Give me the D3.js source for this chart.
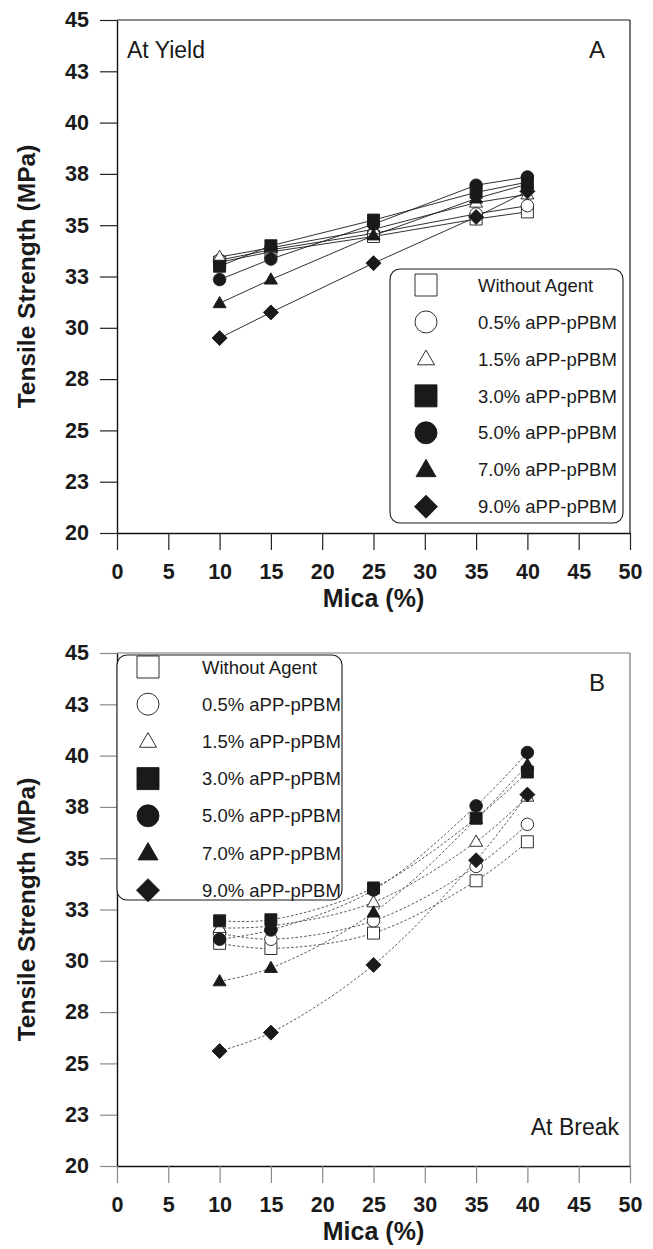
<!DOCTYPE html>
<html>
<head>
<meta charset="utf-8">
<script src="https://cdn.jsdelivr.net/npm/d3@7"></script>
<style>
  html, body { margin: 0; padding: 0; background: #fff; }
  svg { display: block; font-family: "Liberation Sans", Arial, Helvetica, sans-serif; }
</style>
</head>
<body>
<svg id="chart" width="653" height="1249"></svg>
<script>
// Mica loading (%) at which the composites were tested
const micaContent = [10, 15, 25, 35, 40];

// Series (coupling agent content)
const seriesNames = [
  "Without Agent", "0.5% aPP-pPBM", "1.5% aPP-pPBM", "3.0% aPP-pPBM",
  "5.0% aPP-pPBM", "7.0% aPP-pPBM", "9.0% aPP-pPBM"
];

// Tensile strength at yield (MPa)
const yieldNoAgent = [33.2, 33.7, 34.45, 35.3, 35.65];
const yield05 = [33.3, 33.8, 34.6, 35.55, 35.95];
const yield15 = [33.45, 33.9, 34.8, 36.1, 36.5];
const yield30 = [33.0, 34.0, 35.25, 36.6, 37.1];
const yield50 = [32.35, 33.35, 35.05, 36.95, 37.35];
const yield70 = [31.2, 32.35, 34.5, 36.3, 37.0];
const yield90 = [29.5, 30.75, 33.15, 35.4, 36.65];

// Tensile strength at break (MPa)
const breakNoAgent = [30.85, 30.6, 31.35, 33.9, 35.8];
const break05 = [31.35, 31.05, 31.95, 34.6, 36.65];
const break15 = [31.6, 31.7, 32.85, 35.8, 38.0];
const break30 = [31.95, 32.0, 33.55, 36.95, 39.2];
const break50 = [31.05, 31.5, 33.45, 37.55, 40.15];
const break70 = [29.0, 29.65, 32.35, 36.9, 39.55];
const break90 = [25.6, 26.5, 29.8, 34.9, 38.1];

// Axis ticks
const xTickValues = [0, 5, 10, 15, 20, 25, 30, 35, 40, 45, 50];
const yTickValues = [20, 22.5, 25, 27.5, 30, 32.5, 35, 37.5, 40, 42.5, 45];
const yTickLabels = ["20", "23", "25", "28", "30", "33", "35", "38", "40", "43", "45"];

const yieldSeries = [yieldNoAgent, yield05, yield15, yield30, yield50, yield70, yield90];
const breakSeries = [breakNoAgent, break05, break15, break30, break50, break70, break90];

// marker shape and fill for each series
const markers = [
  { shape: "square", filled: false },
  { shape: "circle", filled: false },
  { shape: "triangle", filled: false },
  { shape: "square", filled: true },
  { shape: "circle", filled: true },
  { shape: "triangle", filled: true },
  { shape: "diamond", filled: true }
];

// path for a marker of given width centred at the origin
function markerPath(shape, w) {
  const p = d3.path();
  const h = w / 2;
  if (shape === "square") {
    p.rect(-h, -h, w, w);
  } else if (shape === "circle") {
    p.moveTo(h, 0);
    p.arc(0, 0, h, 0, 2 * Math.PI);
  } else if (shape === "triangle") {
    const th = w * 0.866;
    p.moveTo(0, -th * 0.6);
    p.lineTo(h, th * 0.4);
    p.lineTo(-h, th * 0.4);
    p.closePath();
  } else if (shape === "diamond") {
    p.moveTo(0, -h);
    p.lineTo(h, 0);
    p.lineTo(0, h);
    p.lineTo(-h, 0);
    p.closePath();
  }
  return p.toString();
}

// plot marker widths (px)
const plotSize = { square: 12, circle: 12.5, triangle: 13, diamond: 15 };
// legend marker widths (px)
const legendSize = [22, 22, 17, 22, 22, 20, 23];

const svg = d3.select("#chart");
const plotLeft = 117, plotRight = 630;

const x = d3.scaleLinear().domain([0, 50]).range([plotLeft, plotRight]);

function drawPanel(opts) {
  const y = d3.scaleLinear().domain([20, 45]).range([opts.bottom, opts.top]);
  const g = svg.append("g");

  // frame
  g.append("line").attr("x1", plotLeft).attr("x2", plotRight)
    .attr("y1", opts.top).attr("y2", opts.top)
    .attr("stroke", opts.frameColor).attr("stroke-width", 1.2);
  g.append("line").attr("x1", plotRight).attr("x2", plotRight)
    .attr("y1", opts.top).attr("y2", opts.bottom)
    .attr("stroke", opts.frameColor).attr("stroke-width", 1.2);

  // y axis
  const yAxis = d3.axisLeft(y).tickValues(yTickValues)
    .tickFormat((d, i) => yTickLabels[i]).tickSize(17).tickPadding(11).tickSizeOuter(0);
  const ya = g.append("g").attr("transform", `translate(${plotLeft},0)`).call(yAxis);
  ya.select(".domain").attr("stroke", "#111").attr("stroke-width", 1.4);
  ya.selectAll(".tick line").attr("stroke", opts.tickColor).attr("stroke-width", 1.2);
  ya.selectAll(".tick text").attr("font-size", 21.5).attr("font-weight", "bold")
    .attr("fill", "#1a1a1a").attr("font-family", "Liberation Sans, Arial, sans-serif");

  // x axis
  const xAxis = d3.axisBottom(x).tickValues(xTickValues).tickSize(17).tickPadding(14).tickSizeOuter(0);
  const xa = g.append("g").attr("transform", `translate(0,${opts.bottom})`).call(xAxis);
  xa.select(".domain").attr("stroke", "#111").attr("stroke-width", 1.4);
  xa.selectAll(".tick line").attr("stroke", opts.tickColor).attr("stroke-width", 1.2);
  xa.selectAll(".tick text").attr("font-size", 21.5).attr("font-weight", "bold")
    .attr("fill", "#1a1a1a").attr("font-family", "Liberation Sans, Arial, sans-serif");

  // axis titles
  g.append("text")
    .attr("transform", `translate(35,${(opts.top + opts.bottom) / 2}) rotate(-90)`)
    .attr("text-anchor", "middle")
    .attr("font-size", 24.5).attr("font-weight", "bold").attr("fill", "#1a1a1a")
    .text("Tensile Strength (MPa)");
  g.append("text")
    .attr("x", (plotLeft + plotRight) / 2).attr("y", opts.bottom + 74)
    .attr("text-anchor", "middle")
    .attr("font-size", 25).attr("font-weight", "bold").attr("fill", "#1a1a1a")
    .text("Mica (%)");

  // connecting lines
  const line = d3.line()
    .x((d, i) => x(micaContent[i]))
    .y(d => y(d))
    .curve(opts.curve);
  opts.series.forEach(vals => {
    g.append("path").attr("d", line(vals))
      .attr("fill", "none")
      .attr("stroke", opts.lineColor)
      .attr("stroke-width", opts.lineWidth)
      .attr("stroke-dasharray", opts.dash);
  });

  // markers
  opts.series.forEach((vals, s) => {
    const m = markers[s];
    g.selectAll(null).data(vals).enter().append("path")
      .attr("transform", (d, i) => `translate(${x(micaContent[i])},${y(d)})`)
      .attr("d", markerPath(m.shape, plotSize[m.shape]))
      .attr("fill", m.filled ? "#1a1a1a" : "#fff")
      .attr("stroke", "#1a1a1a")
      .attr("stroke-width", 0.9);
  });

  // legend
  const lg = g.append("g");
  lg.append("rect")
    .attr("x", opts.legend.x).attr("y", opts.legend.y)
    .attr("width", opts.legend.w).attr("height", opts.legend.h)
    .attr("rx", 10).attr("ry", 10)
    .attr("fill", "#fff").attr("stroke", "#1a1a1a").attr("stroke-width", 1.1);
  seriesNames.forEach((name, s) => {
    const m = markers[s];
    const cy = opts.legend.firstRow + s * opts.legend.step;
    lg.append("path")
      .attr("transform", `translate(${opts.legend.x + opts.legend.symDx},${cy})`)
      .attr("d", markerPath(m.shape, legendSize[s]))
      .attr("fill", m.filled ? "#1a1a1a" : "#fff")
      .attr("stroke", "#1a1a1a").attr("stroke-width", 0.9);
    lg.append("text")
      .attr("x", opts.legend.x + opts.legend.textDx).attr("y", cy)
      .attr("dy", "0.36em")
      .attr("font-size", 18.5).attr("fill", "#1a1a1a")
      .text(name);
  });

  // panel annotations
  opts.labels.forEach(l => {
    g.append("text").attr("x", l.x).attr("y", l.y)
      .attr("text-anchor", l.anchor)
      .attr("font-size", l.size).attr("fill", "#1a1a1a")
      .text(l.text);
  });
}

drawPanel({
  top: 20, bottom: 533,
  series: yieldSeries,
  curve: d3.curveLinear,
  lineColor: "#1a1a1a", lineWidth: 0.9, dash: null,
  frameColor: "#1a1a1a", tickColor: "#222",
  legend: { x: 390, y: 269, w: 233, h: 254, symDx: 36, textDx: 88, firstRow: 285, step: 36.95 },
  labels: [
    { text: "At Yield", x: 127, y: 58, anchor: "start", size: 23 },
    { text: "A", x: 597, y: 58, anchor: "middle", size: 24 }
  ]
});

drawPanel({
  top: 653, bottom: 1166,
  series: breakSeries,
  curve: d3.curveCatmullRom.alpha(0.5),
  lineColor: "#444", lineWidth: 0.9, dash: "2.5,2",
  frameColor: "#777", tickColor: "#888",
  legend: { x: 117, y: 655, w: 225, h: 245, symDx: 31, textDx: 85, firstRow: 667, step: 37.2 },
  labels: [
    { text: "B", x: 597, y: 691, anchor: "middle", size: 24 },
    { text: "At Break", x: 619, y: 1135, anchor: "end", size: 23 }
  ]
});
</script>
</body>
</html>
